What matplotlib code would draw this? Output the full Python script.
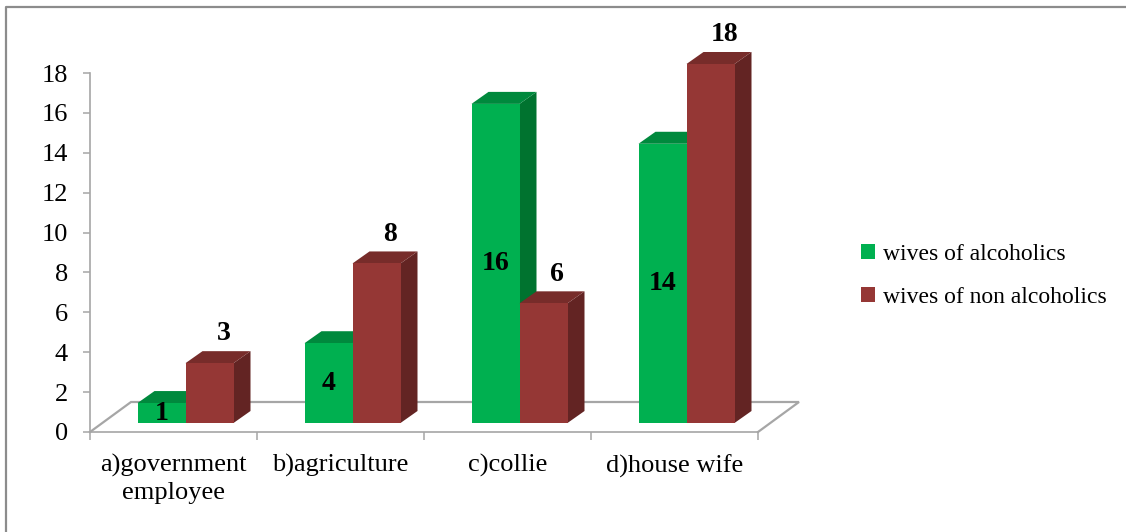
import matplotlib
matplotlib.use("Agg")
import matplotlib.pyplot as plt
import numpy as np
from matplotlib.patches import Polygon, Patch
from matplotlib.lines import Line2D
from matplotlib.transforms import ScaledTranslation

# ---- data ----
categories = ["a)government\nemployee", "b)agriculture", "c)collie", "d)house wife"]
series_names = ["wives of alcoholics", "wives of non alcoholics"]
alcoholics = [1, 4, 16, 14]
non_alcoholics = [3, 8, 6, 18]

# ---- style ----
W, H, DPI = 11.26, 5.32, 100
front_cols = ["#00B050", "#953735"]
top_cols = ["#00893D", "#772C2A"]
side_cols = ["#00732F", "#632423"]
grey = "#A6A6A6"
FONT = "Liberation Serif"
plt.rcParams["font.family"] = [FONT, "DejaVu Serif"]

fig = plt.figure(figsize=(W, H), dpi=DPI)
# plot area in pixels: x 90..758, y(top) 73..432
L, R, T, B = 90, 758, 73, 432
ax = fig.add_axes([L / 1126, (532 - B) / 532, (R - L) / 1126, (B - T) / 532])
ax.set_xlim(0, len(categories))
ax.set_ylim(0, 18)

px_x = (R - L) / len(categories)     # pixels per category unit
px_y = (B - T) / 18                  # pixels per value unit

# 3D geometry (pixels)
floor_dx, floor_dy = 41, 30
front_dx, front_dy = 12, 9
depth_dx, depth_dy = 17, 12
bar_w = 48 / px_x

shift = ScaledTranslation(front_dx / DPI, front_dy / DPI, fig.dpi_scale_trans)
tr = ax.transData + shift
ddx, ddy = depth_dx / px_x, depth_dy / px_y

# floor
fdx, fdy = floor_dx / px_x, floor_dy / px_y
n = len(categories)
ax.plot([0, fdx, n + fdx, n], [0, fdy, fdy, 0], color=grey, lw=1.6,
        clip_on=False, zorder=1, solid_joinstyle="miter")

x = np.arange(n) + 0.5
for i in range(n):
    for s, vals in enumerate([alcoholics, non_alcoholics]):
        v = vals[i]
        x0 = x[i] + (s - 1) * bar_w
        x1 = x0 + bar_w
        z = 3 + i * 2 + s
        side = Polygon([(x1, 0), (x1 + ddx, ddy), (x1 + ddx, v + ddy), (x1, v)],
                       closed=True, facecolor=side_cols[s], edgecolor="none",
                       transform=tr, zorder=z, clip_on=False)
        top = Polygon([(x0, v), (x0 + ddx, v + ddy), (x1 + ddx, v + ddy), (x1, v)],
                      closed=True, facecolor=top_cols[s], edgecolor="none",
                      transform=tr, zorder=z, clip_on=False)
        ax.add_patch(side)
        ax.add_patch(top)
        ax.bar(x0, v, width=bar_w, align="edge", color=front_cols[s],
               transform=tr, zorder=z, clip_on=False, linewidth=0)

# data labels
for i in range(n):
    xc = x[i] - bar_w / 2
    ax.text(xc, alcoholics[i] / 2, str(alcoholics[i]), transform=tr,
            ha="center", va="center", fontsize=20, fontweight="bold", zorder=20)
    xr = x[i] + bar_w / 2
    ax.annotate(str(non_alcoholics[i]), (xr, non_alcoholics[i]), xycoords=tr,
                xytext=(10, 21), textcoords="offset points",
                ha="center", va="center", fontsize=20, fontweight="bold", zorder=20)

# axes styling
for sp in ["top", "right"]:
    ax.spines[sp].set_visible(False)
for sp in ["left", "bottom"]:
    ax.spines[sp].set_color(grey)
    ax.spines[sp].set_linewidth(1.2)
ax.set_yticks(range(0, 19, 2))
ax.tick_params(axis="y", direction="out", length=5, width=1.1, color=grey,
               pad=11, labelsize=19)
ax.set_xticks(range(0, n + 1))
ax.set_xticklabels([])
ax.tick_params(axis="x", which="major", direction="out", length=6, width=1.1, color=grey)
ax.set_xticks(x, minor=True)
ax.set_xticklabels(categories, minor=True, fontsize=19)
ax.tick_params(axis="x", which="minor", length=0, pad=16)
for lab in ax.get_xticklabels(minor=True):
    lab.set_multialignment("center")
    lab.set_linespacing(1.3)
ax.patch.set_alpha(0)

# legend
handles = [Patch(facecolor=c, edgecolor="none") for c in front_cols]
fig.legend(handles, series_names, loc="center left",
           bbox_to_anchor=(861 / 1126, 1 - 276 / 532), frameon=False,
           fontsize=17, handlelength=0.6, handleheight=0.6,
           handletextpad=0.35, labelspacing=0.95, borderpad=0, borderaxespad=0)

# outer border
fig.add_artist(Line2D([6 / 1126, 6 / 1126, 1.0], [0.0, 1 - 7 / 532, 1 - 7 / 532],
                      transform=fig.transFigure, color="#8C8C8C", lw=1.6))

fig.savefig("out.png", dpi=DPI)
